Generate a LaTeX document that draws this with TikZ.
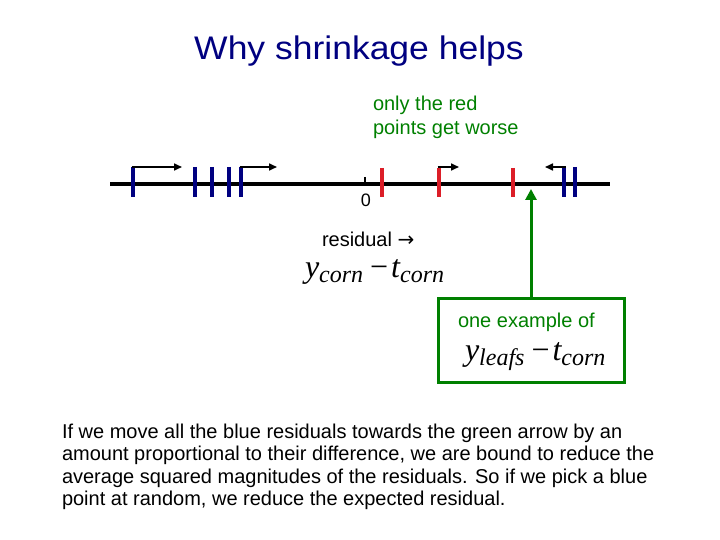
\documentclass[tikz,border=0pt]{standalone}
\usepackage{fontspec}
\setmainfont{Liberation Sans}
\newfontfamily\tnr{Liberation Serif}
\newfontfamily\dvs{DejaVu Sans}
\usetikzlibrary{arrows.meta}
\definecolor{navy}{RGB}{0,0,128}
\definecolor{dgreen}{RGB}{0,128,0}
\definecolor{tred}{RGB}{220,30,40}
\newcommand{\sub}[1]{\raisebox{-5pt}{\fontsize{24}{26}\selectfont #1}}
\newcommand{\frm}[2]{{\tnr\fontsize{32}{36}\selectfont\itshape y\sub{#1}\hspace{7pt}\upshape\char"2212\hspace{3pt}\itshape t\sub{#2}}}
\tikzset{
  txt/.style={inner sep=0pt, outer sep=0pt, anchor=base west, font=\fontsize{20}{22}\selectfont},
  bluetick/.style={draw=navy, line width=4pt},
  redtick/.style={draw=tred, line width=4pt},
  mv/.style={draw=black, line width=1.6pt, -{Triangle[length=8pt,width=7pt]}},
}
\begin{document}
\begin{tikzpicture}[x=1pt,y=-1pt]
\useasboundingbox (0,0) rectangle (720,540);
% title
\node[inner sep=0pt, anchor=base, font=\fontsize{35.5}{40}\selectfont, text=navy] (title) at (359,60) {\scalebox{1}[0.92]{Why shrinkage helps}};
% axis
\coordinate (axL) at (110,184);
\coordinate (axR) at (610,184);
\draw[line width=4.5pt] (axL) -- (axR);
% zero tick
\draw[line width=1.8pt] (365,177) -- (365,184);
\node[txt, anchor=base, font=\fontsize{18}{20}\selectfont] (zero) at (366,207) {0};
% blue ticks
\foreach \x in {133,195,212,229,241,564,575} \draw[bluetick] (\x,167) -- (\x,197);
% red ticks
\foreach \x in {382,439,513} \draw[redtick] (\x,168) -- (\x,197);
% movement arrows
\coordinate (a1s) at (131.5,167); \coordinate (a1e) at (182,167);
\coordinate (a2s) at (239.5,167); \coordinate (a2e) at (277,167);
\coordinate (a3s) at (437.5,167); \coordinate (a3e) at (459,167);
\coordinate (a4s) at (565.5,167); \coordinate (a4e) at (545,167);
\draw[mv] (a1s) -- (a1e);
\draw[mv] (a2s) -- (a2e);
\draw[mv] (a3s) -- (a3e);
\draw[mv] (a4s) -- (a4e);
% red note
\node[txt, text=dgreen] (note1) at (373,111) {only the red};
\node[txt, text=dgreen] (note2) at (373,135) {points get worse};
% residual label
\node[txt] (res) at (322,247) {residual {\dvs\fontsize{20}{22}\selectfont →}};
\node[txt] (f1) at (305,277) {\frm{corn}{corn}};
% green box
\node[draw=dgreen, line width=3pt, minimum width=186pt, minimum height=84pt, inner sep=0pt] (ex) at (531,340) {};
\coordinate (tip) at (531,189);
\draw[draw=dgreen, line width=3pt, -{Triangle[length=11pt,width=11pt]}] (ex.north) -- (tip);
\node[txt, text=dgreen] (ex1) at (458,327) {one example of};
\node[txt] (f2) at (465,360) {\frm{leafs}{corn}};
% body text
\node[txt] (b1) at (62,438) {If we move all the blue residuals towards the green arrow by an};
\node[txt] (b2) at (62,460.5) {amount proportional to their difference, we are bound to reduce the};
\node[txt] (b3) at (62,483) {average squared magnitudes of the residuals. So if we pick a blue};
\node[txt] (b4) at (62,505.5) {point at random, we reduce the expected residual.};
\end{tikzpicture}
\end{document}
